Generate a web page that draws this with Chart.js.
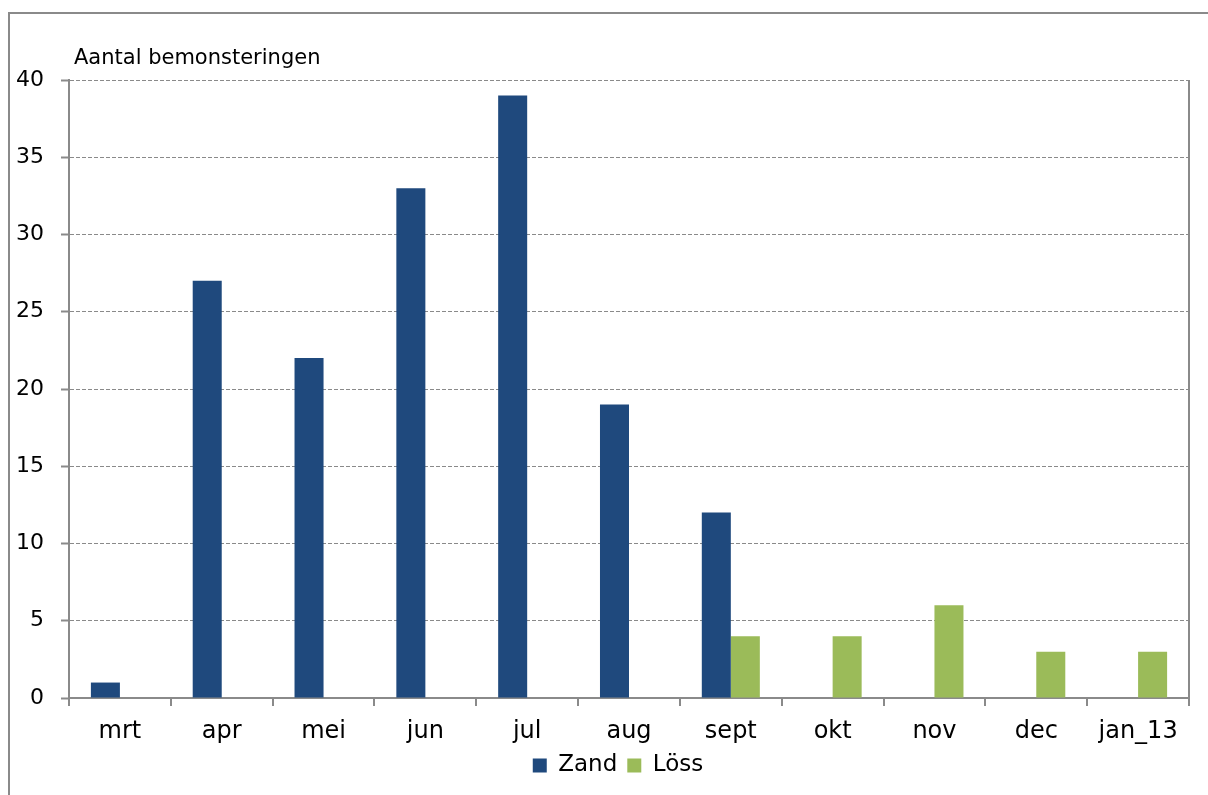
<!DOCTYPE html>
<html>
<head>
<meta charset="utf-8">
<script src="https://cdn.jsdelivr.net/npm/chart.js@4"></script>
<style>
html,body{margin:0;padding:0;background:#fff;}
#wrap{width:1208px;height:795px;position:relative;}
</style>
</head>
<body>
<div id="wrap"><canvas id="c" width="1208" height="795"></canvas></div>
<script>
const categories = ['mrt','apr','mei','jun','jul','aug','sept','okt','nov','dec','jan_13'];
const zand = [1, 27, 22, 33, 39, 19, 12, null, null, null, null];
const loss = [null, null, null, null, null, null, 4, 4, 6, 3, 3];
const yTicks = [0, 5, 10, 15, 20, 25, 30, 35, 40];
const yTitle = 'Aantal bemonsteringen';

const FONT = '"DejaVu Sans", Verdana, sans-serif';
const GRAY = '#8a8a8a';

const framePlugin = {
  id: 'frame',
  afterLayout(chart) {
    if (chart.legend) { chart.legend.left += 47; }
  },
  beforeDraw(chart) {
    const ctx = chart.ctx;
    ctx.save();
    ctx.strokeStyle = GRAY;
    ctx.lineWidth = 2;
    ctx.beginPath();
    ctx.moveTo(9, 795);
    ctx.lineTo(9, 13);
    ctx.lineTo(1208, 13);
    ctx.stroke();
    ctx.restore();
  },
  afterDraw(chart) {
    const ctx = chart.ctx;
    const a = chart.chartArea;
    ctx.save();
    ctx.strokeStyle = GRAY;
    ctx.lineWidth = 2;
    ctx.beginPath();
    ctx.moveTo(a.right, a.top);
    ctx.lineTo(a.right, a.bottom);
    ctx.stroke();
    ctx.fillStyle = '#000';
    ctx.font = '21px ' + FONT;
    ctx.textBaseline = 'middle';
    ctx.textAlign = 'left';
    ctx.fillText(yTitle, 74, 59);
    ctx.restore();
  }
};

new Chart(document.getElementById('c'), {
  type: 'bar',
  data: {
    labels: categories,
    datasets: [
      { label: 'Zand', data: zand, backgroundColor: '#1F497D', borderWidth: 0 },
      { label: 'Löss', data: loss, backgroundColor: '#9BBB59', borderWidth: 0 }
    ]
  },
  options: {
    responsive: false,
    animation: false,
    devicePixelRatio: 1,
    layout: { padding: { top: 80, right: 19, bottom: 8, left: 0 } },
    datasets: { bar: { barPercentage: 1.0, categoryPercentage: 0.57 } },
    plugins: {
      title: { display: false },
      tooltip: { enabled: false },
      legend: {
        position: 'bottom',
        align: 'center',
        labels: {
          color: '#000',
          font: { family: FONT, size: 23 },
          boxWidth: 14,
          boxHeight: 14,
          padding: 10
        }
      }
    },
    scales: {
      x: {
        offset: true,
        grid: {
          offset: true,
          drawOnChartArea: false,
          drawTicks: true,
          tickLength: 8,
          color: GRAY,
          lineWidth: 2
        },
        border: { display: true, color: GRAY, width: 2 },
        ticks: {
          color: '#000',
          font: { family: FONT, size: 24 },
          padding: 11,
          maxRotation: 0,
          autoSkip: false
        },
        afterFit(axis) { axis.height = 46; }
      },
      y: {
        min: 0,
        max: 40,
        afterBuildTicks(axis) { axis.ticks = yTicks.map(v => ({ value: v })); },
        grid: {
          color: GRAY,
          lineWidth: 1,
          drawTicks: true,
          tickLength: 8,
          tickBorderDash: [],
          tickColor: GRAY,
          tickWidth: 2
        },
        border: { display: true, color: GRAY, width: 2, dash: [4, 2] },
        ticks: {
          color: '#000',
          font: { family: FONT, size: 22 },
          padding: 17
        },
        afterFit(axis) { axis.width = 69; }
      }
    }
  },
  plugins: [framePlugin]
});
</script>
</body>
</html>
